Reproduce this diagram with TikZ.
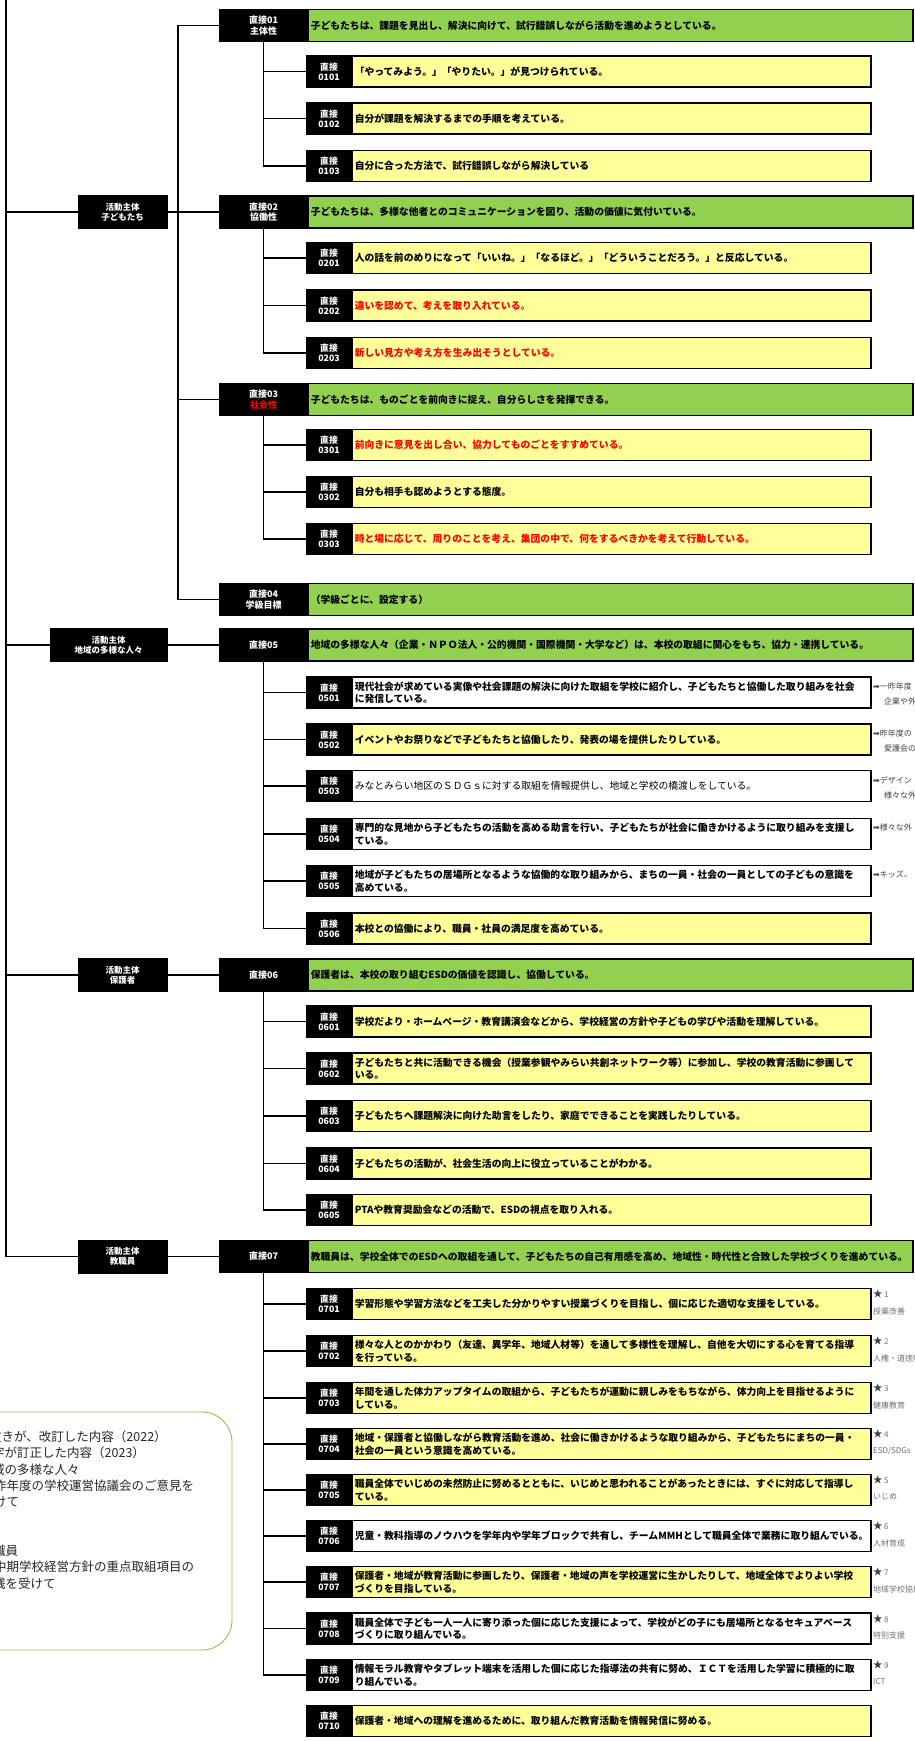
\documentclass[tikz,border=0pt]{standalone}
\usepackage{fontspec}
\setmainfont{Noto Sans CJK JP}
\newfontfamily\djv{DejaVu Sans}
\definecolor{gbar}{HTML}{92D050}
\definecolor{ybar}{HTML}{FFFF99}
\definecolor{rtxt}{HTML}{FF0000}
\definecolor{notec}{HTML}{404040}
\definecolor{starc}{HTML}{707070}
\definecolor{lgline}{HTML}{9BBB59}
\definecolor{lgtxt}{HTML}{262626}
\newcommand\mrow[4]{%
  \node[mainlab] (k#1) at (263.5,#2) {#3};
  \node[mainbar] (m#1) at (307,#2) {#4};}
\newcommand\srow[5]{%
  \node[sublab] (k#1) at (329,#2) {直接\\#1};
  \node[subbar,fill=#3,text=#4] (s#1) at (351,#2) {#5};}
\newcommand\substub[2]{\draw[conn] (k#1.west) -- (k#1.west -| k#2.south);}
\newcommand\starpair[4]{%
  \node[starnote] (st#1) at (873,#2-10) {{\color{notec}\fontsize{9.5}{10}\selectfont ★}\,#3};
  \node[starnote] (sl#1) at (873,#2+7) {#4};}
\begin{document}
\begin{tikzpicture}[x=1pt,y=-1pt,
  conn/.style={line width=1.6pt,black},
  lvlone/.style={fill=black,draw=black,text=white,minimum height=33pt,inner sep=0pt,align=center,font=\bfseries\fontsize{8.5}{10}\selectfont},
  mainlab/.style={fill=black,draw=black,line width=1.5pt,text=white,minimum width=87pt,minimum height=32pt,inner sep=0pt,align=center,font=\bfseries\fontsize{9}{10.5}\selectfont},
  mainbar/.style={fill=gbar,draw=black,line width=1.5pt,anchor=west,minimum width=605pt,text width=599pt,inner xsep=3pt,inner ysep=0pt,minimum height=32pt,align=left,font=\bfseries\fontsize{9.8}{12}\selectfont},
  sublab/.style={fill=black,draw=black,line width=1.5pt,text=white,minimum width=44pt,minimum height=31pt,inner sep=0pt,align=center,font=\bfseries\fontsize{8.8}{9.8}\selectfont},
  subbar/.style={draw=black,line width=1.5pt,anchor=west,minimum width=519pt,text width=513pt,inner xsep=3pt,inner ysep=0pt,minimum height=31pt,align=left,font=\bfseries\fontsize{9.8}{12.5}\selectfont},
  rnote/.style={anchor=west,inner sep=0pt,text=notec,font=\fontsize{8}{9}\selectfont},
  starnote/.style={anchor=west,inner sep=0pt,text=starc,font=\fontsize{8}{9}\selectfont},
  lgtext/.style={anchor=west,inner sep=0pt,text=lgtxt,font=\fontsize{12.5}{14}\selectfont},
  legendbox/.style={draw=lgline,line width=0.9pt,rounded corners=30pt,fill=white}
]
\path[use as bounding box] (0,0) rectangle (915,1741);
\clip (0,0) rectangle (915,1741);
\fill[white] (0,0) rectangle (915,1741);

% level one
\node[lvlone,minimum width=89pt] (L1) at (122.5,212) {活動主体\\子どもたち};
\node[lvlone,minimum width=117pt] (L2) at (108.5,645) {活動主体\\地域の多様な人々};
\node[lvlone,minimum width=89pt] (L3) at (122.5,975) {活動主体\\保護者};
\node[lvlone,minimum width=89pt] (L4) at (122.5,1256.5) {活動主体\\教職員};

% main rows
\mrow{01}{25.5}{直接01\\主体性}{子どもたちは、課題を見出し、解決に向けて、試行錯誤しながら活動を進めようとしている。}
\mrow{02}{212}{直接02\\協働性}{子どもたちは、多様な他者とのコミュニケーションを図り、活動の価値に気付いている。}
\mrow{03}{399.5}{直接03\\{\color{rtxt}社会性}}{子どもたちは、ものごとを前向きに捉え、自分らしさを発揮できる。}
\mrow{04}{599.5}{直接04\\学級目標}{（学級ごとに、設定する）}
\mrow{05}{645}{直接05}{地域の多様な人々（企業・ＮＰＯ法人・公的機関・国際機関・大学など）は、本校の取組に関心をもち、協力・連携している。}
\mrow{06}{975}{直接06}{保護者は、本校の取り組むESDの価値を認識し、協働している。}
\mrow{07}{1256.5}{直接07}{教職員は、学校全体でのESDへの取組を通して、子どもたちの自己有用感を高め、地域性・時代性と合致した学校づくりを進めている。}

% sub rows
\srow{0101}{71.5}{ybar}{black}{「やってみよう。」「やりたい。」が見つけられている。}
\srow{0102}{118.5}{ybar}{black}{自分が課題を解決するまでの手順を考えている。}
\srow{0103}{166}{ybar}{black}{自分に合った方法で、試行錯誤しながら解決している}
\srow{0201}{258}{ybar}{black}{人の話を前のめりになって「いいね。」「なるほど。」「どういうことだろう。」と反応している。}
\srow{0202}{305.5}{ybar}{rtxt}{違いを認めて、考えを取り入れている。}
\srow{0203}{353}{ybar}{rtxt}{新しい見方や考え方を生み出そうとしている。}
\srow{0301}{445}{ybar}{rtxt}{前向きに意見を出し合い、協力してものごとをすすめている。}
\srow{0302}{492}{ybar}{black}{自分も相手も認めようとする態度。}
\srow{0303}{539}{ybar}{rtxt}{時と場に応じて、周りのことを考え、集団の中で、何をするべきかを考えて行動している。}
\srow{0501}{692.5}{white}{black}{現代社会が求めている実像や社会課題の解決に向けた取組を学校に紹介し、子どもたちと協働した取り組みを社会\\に発信している。}
\srow{0502}{739.5}{ybar}{black}{イベントやお祭りなどで子どもたちと協働したり、発表の場を提供したりしている。}
\srow{0503}{786}{white}{black}{\mdseries みなとみらい地区のＳＤＧｓに対する取組を情報提供し、地域と学校の橋渡しをしている。}
\srow{0504}{834}{white}{black}{専門的な見地から子どもたちの活動を高める助言を行い、子どもたちが社会に働きかけるように取り組みを支援し\\ている。}
\srow{0505}{881}{white}{black}{地域が子どもたちの居場所となるような協働的な取り組みから、まちの一員・社会の一員としての子どもの意識を\\高めている。}
\srow{0506}{928.5}{ybar}{black}{本校との協働により、職員・社員の満足度を高めている。}
\srow{0601}{1021.5}{ybar}{black}{学校だより・ホームページ・教育講演会などから、学校経営の方針や子どもの学びや活動を理解している。}
\srow{0602}{1068.5}{ybar}{black}{子どもたちと共に活動できる機会（授業参観やみらい共創ネットワーク等）に参加し、学校の教育活動に参画して\\いる。}
\srow{0603}{1116}{ybar}{black}{子どもたちへ課題解決に向けた助言をしたり、家庭でできることを実践したりしている。}
\srow{0604}{1163.5}{ybar}{black}{子どもたちの活動が、社会生活の向上に役立っていることがわかる。}
\srow{0605}{1210}{ybar}{black}{PTAや教育奨励会などの活動で、ESDの視点を取り入れる。}
\srow{0701}{1304}{ybar}{black}{学習形態や学習方法などを工夫した分かりやすい授業づくりを目指し、個に応じた適切な支援をしている。}
\srow{0702}{1351}{ybar}{black}{様々な人とのかかわり（友達、異学年、地域人材等）を通して多様性を理解し、自他を大切にする心を育てる指導\\を行っている。}
\srow{0703}{1398}{ybar}{black}{年間を通した体力アップタイムの取組から、子どもたちが運動に親しみをもちながら、体力向上を目指せるように\\している。}
\srow{0704}{1444}{ybar}{black}{地域・保護者と協働しながら教育活動を進め、社会に働きかけるような取り組みから、子どもたちにまちの一員・\\社会の一員という意識を高めている。}
\srow{0705}{1490}{ybar}{black}{職員全体でいじめの未然防止に努めるとともに、いじめと思われることがあったときには、すぐに対応して指導し\\ている。}
\srow{0706}{1536}{white}{black}{児童・教科指導のノウハウを学年内や学年ブロックで共有し、チームMMHとして職員全体で業務に取り組んでいる。}
\srow{0707}{1582}{ybar}{black}{保護者・地域が教育活動に参画したり、保護者・地域の声を学校運営に生かしたりして、地域全体でよりよい学校\\づくりを目指している。}
\srow{0708}{1628.5}{white}{black}{職員全体で子ども一人一人に寄り添った個に応じた支援によって、学校がどの子にも居場所となるセキュアベース\\づくりに取り組んでいる。}
\srow{0709}{1675}{white}{black}{情報モラル教育やタブレット端末を活用した個に応じた指導法の共有に努め、ＩＣＴを活用した学習に積極的に取\\り組んでいる。}
\srow{0710}{1721}{ybar}{black}{保護者・地域への理解を進めるために、取り組んだ教育活動を情報発信に努める。}

% trunk
\coordinate (trtop) at (6,0);
\coordinate (bx) at (178,0);
\draw[conn] (trtop) -- (trtop |- L4.west);
\draw[conn] (trtop |- L1.west) -- (L1.west);
\draw[conn] (trtop |- L2.west) -- (L2.west);
\draw[conn] (trtop |- L3.west) -- (L3.west);
\draw[conn] (trtop |- L4.west) -- (L4.west);
% bus for the children's goals
\draw[conn] (L1.east) -- (L1.east -| bx);
\draw[conn] (k01.west) -| (bx |- k04.west) -- (k04.west);
\draw[conn] (k02.west) -- (k02.west -| bx);
\draw[conn] (k03.west) -- (k03.west -| bx);
\draw[conn] (L2.east) -- (k05.west);
\draw[conn] (L3.east) -- (k06.west);
\draw[conn] (L4.east) -- (k07.west);

% sub buses
\draw[conn] (k01.south) |- (k0103.west);
\substub{0101}{01}\substub{0102}{01}
\draw[conn] (k02.south) |- (k0203.west);
\substub{0201}{02}\substub{0202}{02}
\draw[conn] (k03.south) |- (k0303.west);
\substub{0301}{03}\substub{0302}{03}
\draw[conn] (k05.south) |- (k0506.west);
\substub{0501}{05}\substub{0502}{05}\substub{0503}{05}\substub{0504}{05}\substub{0505}{05}
\draw[conn] (k06.south) |- (k0605.west);
\substub{0601}{06}\substub{0602}{06}\substub{0603}{06}\substub{0604}{06}
\draw[conn] (k07.south) |- (k0709.west);
\substub{0701}{07}\substub{0702}{07}\substub{0703}{07}\substub{0704}{07}\substub{0705}{07}\substub{0706}{07}\substub{0707}{07}\substub{0708}{07}

% right notes
\node[rnote] (n0501a) at (873,686.5) {{\djv ➡}一昨年度};
\node[rnote] (n0501b) at (884,701.5) {企業や外};
\node[rnote] (n0502a) at (873,733.5) {{\djv ➡}昨年度の};
\node[rnote] (n0502b) at (884,748.5) {愛護会の};
\node[rnote] (n0503a) at (873,780) {{\djv ➡}デザイン};
\node[rnote] (n0503b) at (884,795) {様々な外};
\node[rnote] (n0504a) at (873,827) {{\djv ➡}様々な外};
\node[rnote] (n0505a) at (873,874) {{\djv ➡}キッズ、};
\starpair{0701}{1304}{1}{授業改善}
\starpair{0702}{1351}{2}{人権・道徳教}
\starpair{0703}{1398}{3}{健康教育}
\starpair{0704}{1444}{4}{ESD/SDGs}
\starpair{0705}{1490}{5}{いじめ}
\starpair{0706}{1536}{6}{人材育成}
\starpair{0707}{1582}{7}{地域学校協働}
\starpair{0708}{1628.5}{8}{特別支援}
\starpair{0709}{1675}{9}{ICT}

% legend
\draw[legendbox] (-40,1412) rectangle (232,1650);
\node[lgtext] (lg1) at (-11,1437) {抜きが、改訂した内容（2022）};
\node[lgtext] (lg2) at (-8,1453) {字が訂正した内容（2023）};
\node[lgtext] (lg3) at (-8,1470) {域の多様な人々};
\node[lgtext] (lg4) at (-6,1486) {昨年度の学校運営協議会のご意見を};
\node[lgtext] (lg5) at (-6,1502) {けて};
\node[lgtext] (lg7) at (-7,1551) {職員};
\node[lgtext] (lg8) at (-6,1567) {中期学校経営方針の重点取組項目の};
\node[lgtext] (lg9) at (-7,1584) {践を受けて};
\end{tikzpicture}
\end{document}
